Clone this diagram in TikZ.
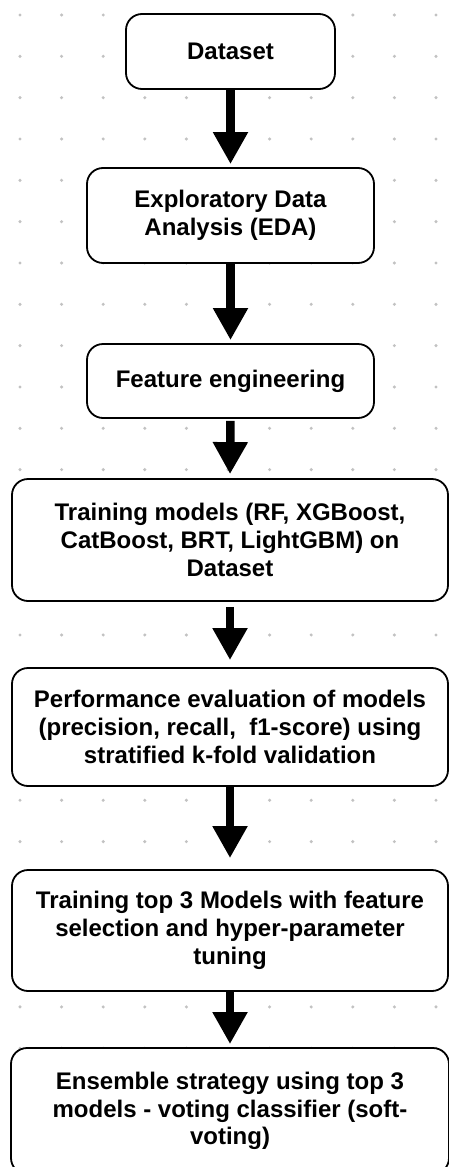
\documentclass[tikz,border=0pt]{standalone}
\usepackage{fontspec}
\setmainfont{Liberation Sans}
\usetikzlibrary{arrows.meta}
\begin{document}
\begin{tikzpicture}[x=1pt,y=-1pt,
  stepbox/.style={draw=black, line width=1.8pt, fill=white, rounded corners=16pt,
    align=center, inner sep=0pt,
    font=\bfseries\fontsize{24}{27.8}\selectfont},
  flow/.style={line width=8.5pt, -{Triangle[width=33pt,length=32pt]}},
  griddot/.style={fill=black!24}]
\useasboundingbox (0,0) rectangle (449,1167);
\clip (0,0) rectangle (449,1167);

% dotted background grid
\foreach \i in {0,...,10}
  \foreach \j in {0,...,27}
    \fill[griddot] ({20+41.6*\i},{15+41.33*\j}) circle (1.7pt);

% process steps
\node[stepbox, minimum width=209pt, minimum height=75pt] (data) at (230.5,51.5) {Dataset};
\node[stepbox, minimum width=287pt, minimum height=95pt] (eda) at (230.5,215.5)
  {Exploratory Data\\Analysis (EDA)};
\node[stepbox, minimum width=287pt, minimum height=74pt] (feat) at (230.5,381)
  {Feature engineering};
\node[stepbox, minimum width=436pt, minimum height=122pt] (train) at (230,540)
  {Training models (RF, XGBoost,\\CatBoost, BRT, LightGBM) on\\Dataset};
\node[stepbox, minimum width=436pt, minimum height=118pt] (perf) at (230,727)
  {Performance evaluation of models\\(precision, recall,\ \ f1-score) using\\stratified k-fold validation};
\node[stepbox, minimum width=436pt, minimum height=121pt] (top) at (230,930.5)
  {Training top 3 Models with feature\\selection and hyper-parameter\\tuning};
\node[stepbox, minimum width=438pt, minimum height=126pt] (ens) at (230,1111)
  {Ensemble strategy using top 3\\models - voting classifier (soft-\\voting)};

% connectors
\draw[flow, shorten >=3pt] (data.south) -- (eda.north);
\draw[flow, shorten >=3pt] (eda.south) -- (feat.north);
\draw[flow, shorten <=2pt, shorten >=4pt] (feat.south) -- (train.north);
\draw[flow, shorten <=5pt, shorten >=7pt] (train.south) -- (perf.north);
\draw[flow, shorten >=11pt] (perf.south) -- (top.north);
\draw[flow, shorten >=3pt] (top.south) -- (ens.north);
\end{tikzpicture}
\end{document}
